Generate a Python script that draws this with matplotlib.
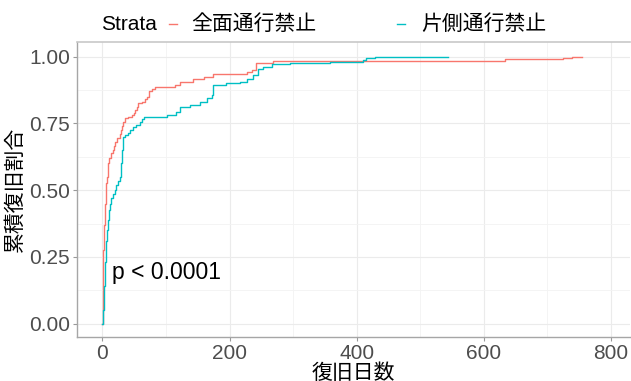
import matplotlib
matplotlib.use("Agg")
import matplotlib.pyplot as plt
from matplotlib.lines import Line2D

plt.rcParams['font.family'] = ['Liberation Sans', 'Noto Sans CJK JP', 'DejaVu Sans']

# ---- data ----
strata_names = ["全面通行禁止", "片側通行禁止"]
colors = ["#F8766D", "#00BFC4"]

red_time = [0, 0.3, 0.6, 1, 1.4, 2, 2.8, 3.6, 4.5, 5.2, 6, 7, 8, 9, 11, 14, 16, 18,
            20, 23, 27, 29, 31, 33, 35, 40, 46, 49, 52, 54, 56, 62, 67, 70, 74, 78,
            82, 114, 122, 142, 160, 174, 227, 235, 242, 268, 633, 725, 738, 754]
red_cum = [0.0, 0.04, 0.12, 0.20, 0.275, 0.33, 0.37, 0.40, 0.45, 0.49, 0.525, 0.55,
           0.58, 0.60, 0.62, 0.64, 0.65, 0.665, 0.68, 0.695, 0.71, 0.725, 0.74,
           0.755, 0.77, 0.775, 0.78, 0.79, 0.80, 0.81, 0.825, 0.83, 0.84, 0.85,
           0.87, 0.88, 0.887, 0.894, 0.906, 0.915, 0.925, 0.935, 0.941, 0.95,
           0.978, 0.985, 0.991, 0.996, 1.0, 1.0]

cyan_time = [0, 1, 2, 2.8, 3.6, 4.5, 5.2, 6, 7, 8.5, 10.5, 12, 14, 16, 19, 22, 25,
             27, 29, 30, 31, 32, 36, 40, 44, 48, 53, 59, 62, 66, 101, 116, 122,
             137, 153, 164, 172, 174, 195, 216, 227, 237, 245, 253, 266, 295, 358,
             410, 415, 429, 544]
cyan_cum = [0.0, 0.05, 0.10, 0.14, 0.175, 0.23, 0.27, 0.31, 0.35, 0.39, 0.425,
            0.45, 0.47, 0.485, 0.50, 0.52, 0.535, 0.55, 0.57, 0.60, 0.65, 0.70,
            0.705, 0.713, 0.725, 0.737, 0.745, 0.756, 0.765, 0.773, 0.78, 0.794,
            0.812, 0.819, 0.831, 0.844, 0.856, 0.894, 0.90, 0.906, 0.915, 0.931,
            0.953, 0.962, 0.972, 0.978, 0.981, 0.988, 0.994, 1.0, 1.0]

x_ticks = [0, 200, 400, 600, 800]
y_ticks = [0.0, 0.25, 0.50, 0.75, 1.00]
y_tick_labels = ["0.00", "0.25", "0.50", "0.75", "1.00"]
pval_text = "p < 0.0001"

W, H = 631, 381
fig = plt.figure(figsize=(W / 100, H / 100), dpi=100)
ax = fig.add_axes([77 / W, 1 - 337 / H, (630 - 77) / W, (337 - 42) / H])

ax.step(red_time, red_cum, where='post', color=colors[0], lw=1.0)
ax.step(cyan_time, cyan_cum, where='post', color=colors[1], lw=1.0)

ax.set_xlim(-40, 830)
ax.set_ylim(-0.05, 1.055)
ax.set_xticks(x_ticks)
ax.set_xticks([100, 300, 500, 700], minor=True)
ax.set_yticks(y_ticks)
ax.set_yticklabels(y_tick_labels)
ax.set_yticks([0.125, 0.375, 0.625, 0.875], minor=True)

ax.grid(which='major', color='#ebebeb', lw=0.8)
ax.grid(which='minor', color='#f3f3f3', lw=0.6)
ax.set_axisbelow(True)

ax.tick_params(axis='both', which='major', labelsize=15, labelcolor='#4d4d4d',
               color='#999999', length=3, width=0.8, pad=2)
ax.tick_params(axis='both', which='minor', length=0)

for s in ['left', 'bottom']:
    ax.spines[s].set_color('#a6a6a6')
    ax.spines[s].set_linewidth(1.0)
ax.spines['top'].set_color('#c8c8c8')
ax.spines['top'].set_linewidth(1.2)
ax.spines['right'].set_visible(False)

ax.set_xlabel("復旧日数", fontsize=15, color='black', labelpad=0)
ax.set_ylabel("累積復旧割合", fontsize=15, color='black', labelpad=3)

ax.text(14.6, 0.19, pval_text, fontsize=16.5, ha='left', va='center', color='black')

# ---- legend on top ----
ly = 1 - 24 / H
fig.text(101 / W, ly, "Strata", fontsize=15, ha='left', va='center', color='black')
fig.add_artist(Line2D([169 / W, 177 / W], [ly, ly], color=colors[0], lw=1.0,
                      transform=fig.transFigure))
fig.text(191 / W, ly, strata_names[0], fontsize=15, ha='left', va='center', color='black')
fig.add_artist(Line2D([397 / W, 405 / W], [ly, ly], color=colors[1], lw=1.0,
                      transform=fig.transFigure))
fig.text(421 / W, ly, strata_names[1], fontsize=15, ha='left', va='center', color='black')

fig.savefig("out.png", dpi=100)
